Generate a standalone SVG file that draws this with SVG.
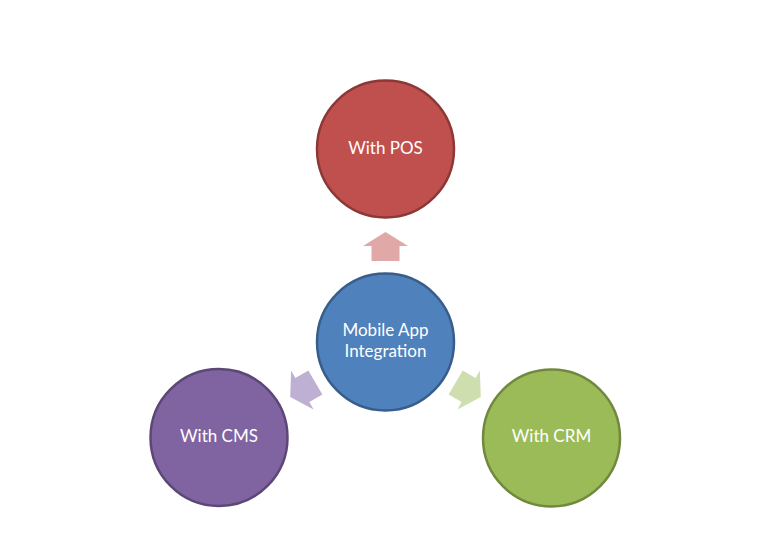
<svg xmlns="http://www.w3.org/2000/svg" width="770" height="550" viewBox="0 0 770 550">
<defs>
<style>
.node circle{stroke-width:2.5}
.lbl{font-family:"Lato","Liberation Sans",sans-serif;font-size:17px;fill:#FFFFFF;text-anchor:middle}
</style>
<polygon id="arr" points="0,-110 22.5,-96 14,-96 14,-81 -14,-81 -14,-96 -22.5,-96"/>
</defs>
<rect width="770" height="550" fill="#FFFFFF"/>
<g id="connectors">
<use href="#arr" transform="translate(385.5,342)" fill="#E0A9A8"/>
<use href="#arr" transform="translate(385.5,342) rotate(-120)" fill="#BDB0D2"/>
<use href="#arr" transform="translate(385.5,342) rotate(120)" fill="#CFDEAE"/>
</g>
<g id="node-pos" class="node">
<circle cx="385.5" cy="149" r="68.5" fill="#C0504D" stroke="#8C3836"/>
<text class="lbl" x="385.5" y="153.5">With POS</text>
</g>
<g id="node-center" class="node">
<circle cx="385.5" cy="342" r="68.5" fill="#4F81BD" stroke="#385D8A"/>
<text class="lbl" x="385.5" y="336">Mobile App</text>
<text class="lbl" x="385.5" y="357">Integration</text>
</g>
<g id="node-cms" class="node">
<circle cx="219" cy="437.5" r="68.5" fill="#8064A2" stroke="#5C4776"/>
<text class="lbl" x="219" y="442">With CMS</text>
</g>
<g id="node-crm" class="node">
<circle cx="551.5" cy="438" r="68.5" fill="#9BBB59" stroke="#71893F"/>
<text class="lbl" x="551.5" y="442">With CRM</text>
</g>
</svg>
